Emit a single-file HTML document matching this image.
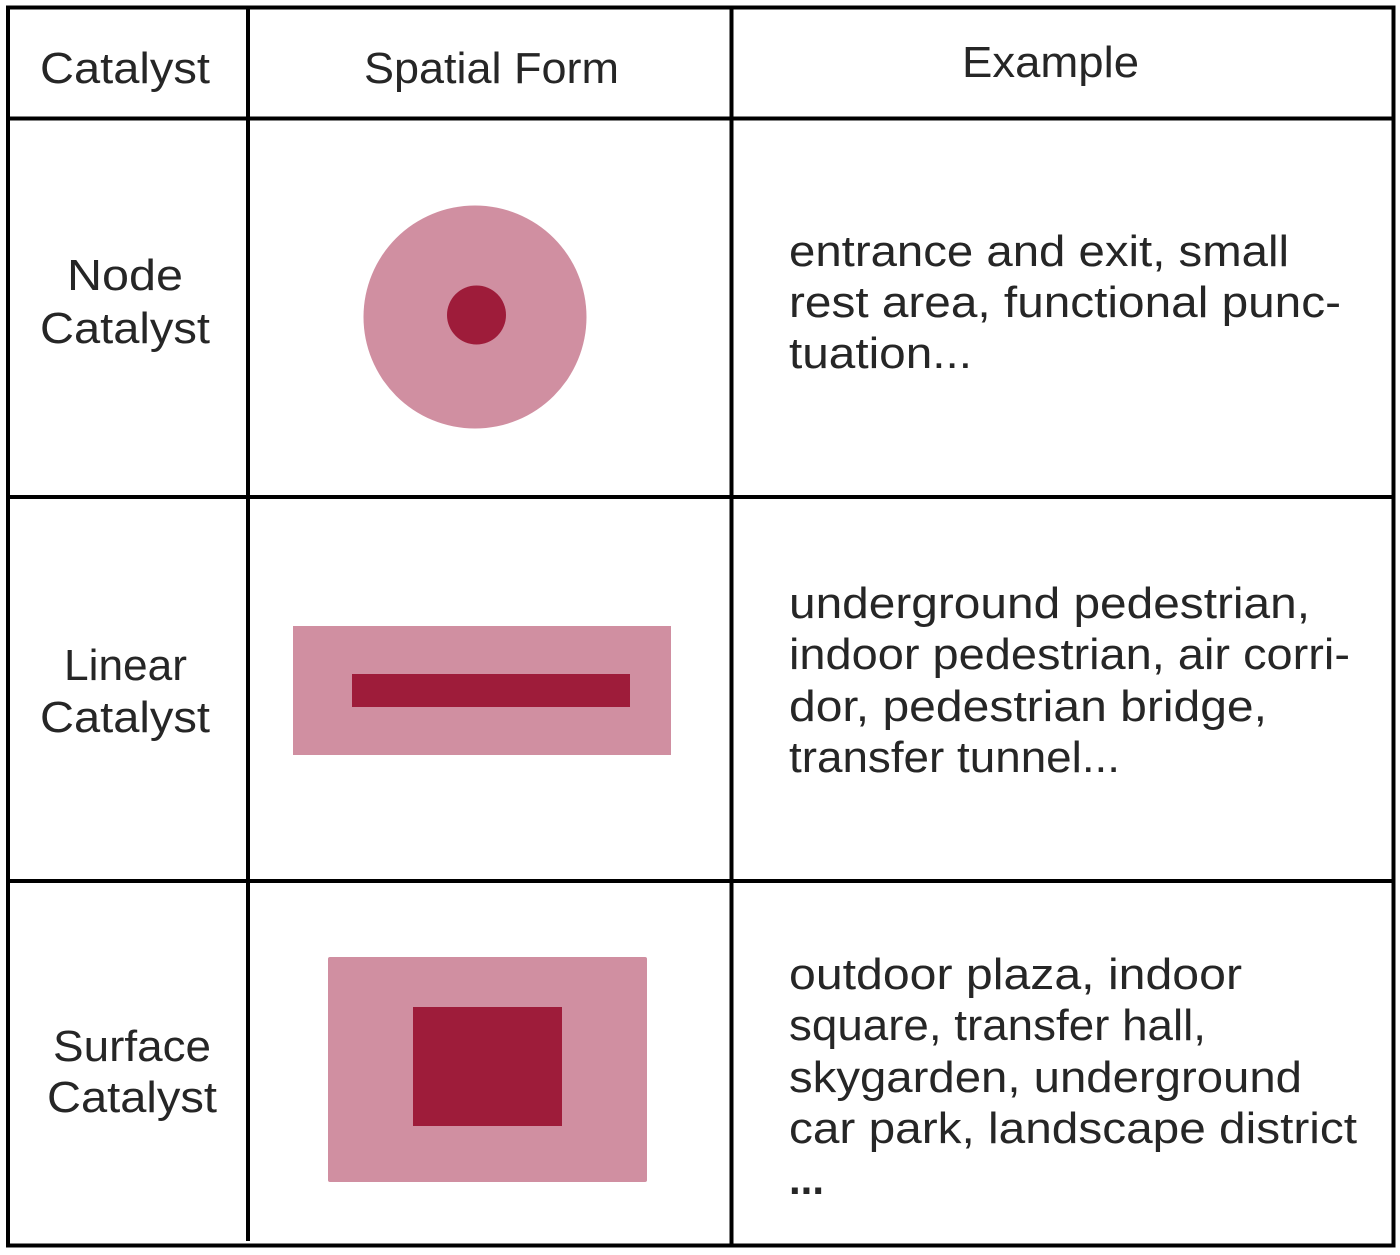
<!DOCTYPE html>
<html>
<head>
<meta charset="utf-8">
<style>
html,body{margin:0;padding:0;background:#fff;width:1400px;height:1255px;overflow:hidden}
svg{display:block}
text{font-family:"Liberation Sans","DejaVu Sans",sans-serif;font-size:44px;fill:#262626;}
</style>
</head>
<body>
<svg width="1400" height="1255" viewBox="0 0 1400 1255" xmlns="http://www.w3.org/2000/svg">
<rect width="1400" height="1255" fill="#fff"/>
<g stroke="#000" stroke-width="4" fill="none">
<rect x="8" y="7.5" width="1385.5" height="1238"/>
<line x1="7" y1="118.5" x2="1394" y2="118.5"/>
<line x1="7" y1="497" x2="1394" y2="497"/>
<line x1="7" y1="881" x2="1394" y2="881"/>
<line x1="248" y1="7" x2="248" y2="1241"/>
<line x1="731.5" y1="7" x2="731.5" y2="1245"/>
</g>
<circle cx="475" cy="317" r="111.5" fill="#d08fa1"/>
<circle cx="476.5" cy="315" r="29.5" fill="#9e1c3a"/>
<rect x="293" y="626" width="378" height="129" fill="#d08fa1"/>
<rect x="352" y="674" width="278" height="33" fill="#9e1c3a"/>
<rect x="328" y="957" width="319" height="225" rx="2" fill="#d08fa1"/>
<rect x="413" y="1007" width="149" height="119" fill="#9e1c3a"/>

<text x="40" y="83" textLength="170" lengthAdjust="spacingAndGlyphs">Catalyst</text>
<text x="364" y="83" textLength="255" lengthAdjust="spacingAndGlyphs">Spatial Form</text>
<text x="962" y="77" textLength="177" lengthAdjust="spacingAndGlyphs">Example</text>

<text x="67" y="290" textLength="116" lengthAdjust="spacingAndGlyphs">Node</text>
<text x="40" y="343" textLength="170" lengthAdjust="spacingAndGlyphs">Catalyst</text>
<text x="64" y="680" textLength="123" lengthAdjust="spacingAndGlyphs">Linear</text>
<text x="40" y="732" textLength="170" lengthAdjust="spacingAndGlyphs">Catalyst</text>
<text x="53" y="1061" textLength="158" lengthAdjust="spacingAndGlyphs">Surface</text>
<text x="47" y="1112" textLength="170" lengthAdjust="spacingAndGlyphs">Catalyst</text>

<text x="789" y="266" textLength="500" lengthAdjust="spacingAndGlyphs">entrance and exit, small</text>
<text x="789" y="317" textLength="552" lengthAdjust="spacingAndGlyphs">rest area, functional punc-</text>
<text x="789" y="368" textLength="183" lengthAdjust="spacingAndGlyphs">tuation...</text>

<text x="789" y="618" textLength="521" lengthAdjust="spacingAndGlyphs">underground pedestrian,</text>
<text x="789" y="669" textLength="561" lengthAdjust="spacingAndGlyphs">indoor pedestrian, air corri-</text>
<text x="789" y="721" textLength="478" lengthAdjust="spacingAndGlyphs">dor, pedestrian bridge,</text>
<text x="789" y="772" textLength="331" lengthAdjust="spacingAndGlyphs">transfer tunnel...</text>

<text x="789" y="989" textLength="453" lengthAdjust="spacingAndGlyphs">outdoor plaza, indoor</text>
<text x="789" y="1040" textLength="417" lengthAdjust="spacingAndGlyphs">square, transfer hall,</text>
<text x="789" y="1092" textLength="513" lengthAdjust="spacingAndGlyphs">skygarden, underground</text>
<text x="789" y="1143" textLength="568" lengthAdjust="spacingAndGlyphs">car park, landscape district</text>
<text x="789" y="1194" textLength="35" lengthAdjust="spacingAndGlyphs" font-weight="bold">...</text>
</svg>
</body>
</html>
